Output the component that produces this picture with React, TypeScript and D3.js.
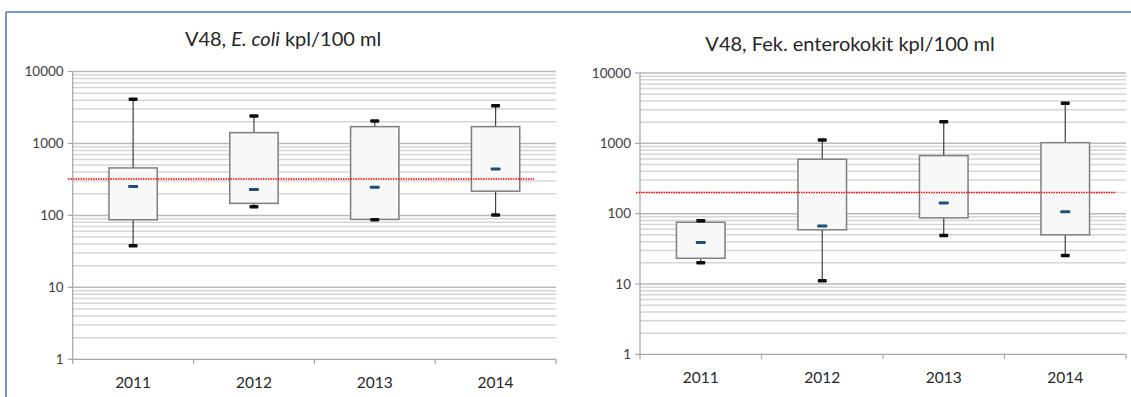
import React from 'react';
import * as d3 from 'd3';

const years = ['2011', '2012', '2013', '2014'];

const ecoliMin = [38, 132, 87, 101];
const ecoliQ1 = [87, 147, 88, 217];
const ecoliMedian = [252, 229, 247, 441];
const ecoliQ3 = [457, 1413, 1713, 1713];
const ecoliMax = [4100, 2415, 2056, 3334];
const ecoliLimit = 320;

const enteroMin = [20, 11.1, 49, 25.5];
const enteroQ1 = [23.2, 59, 87, 50];
const enteroMedian = [39, 67, 142, 106];
const enteroQ3 = [75.5, 594, 668, 1021];
const enteroMax = [79.5, 1114, 2028, 3723];
const enteroLimit = 200;

const yTicks = [1, 10, 100, 1000, 10000];

const FONT = 'Lato, "Open Sans", sans-serif';

type PanelProps = {
  x0: number; x1: number; yTop: number; yBottom: number;
  titleX: number; titleY: number; title: React.ReactNode;
  mins: number[]; q1s: number[]; meds: number[]; q3s: number[]; maxs: number[];
  limit: number; limitStart: number; limitEnd: number;
};

function Panel(p: PanelProps) {
  const x = d3.scaleBand<string>().domain(years).range([p.x0, p.x1]).padding(0);
  const y = d3.scaleLog().domain([1, 10000]).range([p.yBottom, p.yTop]);
  const grid: { v: number; major: boolean }[] = [];
  [1, 10, 100, 1000].forEach((d) => {
    for (let k = 1; k <= 9; k++) grid.push({ v: k * d, major: k === 1 });
  });
  grid.push({ v: 10000, major: true });
  const bw = x.bandwidth();
  const boxW = bw * 0.4;
  const boundaries = [...years.map((yr) => x(yr) as number), p.x1];
  return (
    <g>
      <text x={p.titleX} y={p.titleY} textAnchor="middle" fontFamily={FONT} fontSize={20} fill="#262626">
        {p.title}
      </text>
      {grid.filter((g) => g.v > 1).map((g, i) => (
        <line key={'g' + i} x1={p.x0} x2={p.x1} y1={y(g.v)} y2={y(g.v)}
          stroke={g.major ? '#bababa' : '#d6d6d6'} strokeWidth={1.5} />
      ))}
      {/* y axis */}
      <line x1={p.x0} x2={p.x0} y1={p.yTop} y2={p.yBottom} stroke="#a6a6a6" strokeWidth={1.2} />
      {yTicks.map((t) => (
        <g key={'yt' + t}>
          <line x1={p.x0 - 5} x2={p.x0} y1={y(t)} y2={y(t)} stroke="#a6a6a6" strokeWidth={1.2} />
          <text x={p.x0 - 9} y={y(t)} dy="0.35em" textAnchor="end" fontFamily={FONT} fontSize={13.5} fill="#404040">
            {t}
          </text>
        </g>
      ))}
      {/* x axis */}
      <line x1={p.x0} x2={p.x1} y1={p.yBottom} y2={p.yBottom} stroke="#a6a6a6" strokeWidth={1.2} />
      {boundaries.map((b, i) => (
        <line key={'xt' + i} x1={b} x2={b} y1={p.yBottom} y2={p.yBottom + 5} stroke="#a6a6a6" strokeWidth={1.2} />
      ))}
      {years.map((yr) => (
        <text key={'xl' + yr} x={(x(yr) as number) + bw / 2} y={p.yBottom + 29} textAnchor="middle"
          fontFamily={FONT} fontSize={15.5} fill="#262626">
          {yr}
        </text>
      ))}
      {/* boxes */}
      {years.map((yr, i) => {
        const cx = (x(yr) as number) + bw / 2;
        return (
          <g key={'b' + yr}>
            <line x1={cx} x2={cx} y1={y(p.maxs[i])} y2={y(p.q3s[i])} stroke="#404040" strokeWidth={1.2} />
            <line x1={cx} x2={cx} y1={y(p.q1s[i])} y2={y(p.mins[i])} stroke="#404040" strokeWidth={1.2} />
            <rect x={cx - boxW / 2} y={y(p.q3s[i])} width={boxW} height={y(p.q1s[i]) - y(p.q3s[i])}
              fill="#f8f8f8" stroke="#7f7f7f" strokeWidth={1.5} />
            <rect x={cx - 4.5} y={y(p.maxs[i]) - 1.75} width={9} height={3.5} rx={1} fill="#0d0d0d" />
            <rect x={cx - 4.5} y={y(p.mins[i]) - 1.75} width={9} height={3.5} rx={1} fill="#0d0d0d" />
            <rect x={cx - 5} y={y(p.meds[i]) - 1.5} width={10} height={3} rx={1} fill="#1f4e79" />
          </g>
        );
      })}
      <line x1={p.limitStart} x2={p.limitEnd} y1={y(p.limit)} y2={y(p.limit)} stroke="#ff0000"
        strokeWidth={1.5} strokeDasharray="1.5 1" />
    </g>
  );
}

export default function App() {
  return (
    <svg width={1131} height={397} style={{ position: 'absolute', left: 0, top: 0, background: '#fff' }}>
      <rect x={0} y={0} width={1131} height={397} fill="#fff" />
      <line x1={6} x2={1131} y1={12} y2={12} stroke="#7397c9" strokeWidth={2} />
      <line x1={6} x2={6} y1={12} y2={397} stroke="#7397c9" strokeWidth={2} />
      <Panel x0={72.7} x1={556} yTop={71.5} yBottom={359.3} titleX={283} titleY={46}
        title={<>V48, <tspan fontStyle="italic">E. coli</tspan> kpl/100 ml</>}
        mins={ecoliMin} q1s={ecoliQ1} meds={ecoliMedian} q3s={ecoliQ3} maxs={ecoliMax}
        limit={ecoliLimit} limitStart={68} limitEnd={534} />
      <Panel x0={640} x1={1126} yTop={73} yBottom={354.3} titleX={850} titleY={51}
        title="V48, Fek. enterokokit kpl/100 ml"
        mins={enteroMin} q1s={enteroQ1} meds={enteroMedian} q3s={enteroQ3} maxs={enteroMax}
        limit={enteroLimit} limitStart={636} limitEnd={1116} />
    </svg>
  );
}
